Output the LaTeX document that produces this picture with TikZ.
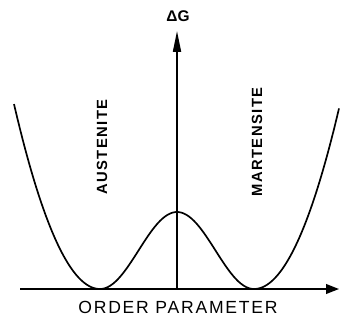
\documentclass[tikz,border=0pt]{standalone}
\usepackage{fontspec}
\setmainfont{Liberation Sans}
\usetikzlibrary{arrows.meta}

\begin{document}
\begin{tikzpicture}[
          x=0.5cm, y=0.5cm,
          axis/.style={line width=1.2pt},
          curve/.style={line width=1.2pt, smooth, samples=60},
          phase/.style={rotate=90, font=\fontsize{10.5}{12}\selectfont\bfseries\addfontfeatures{LetterSpace=10}},
          axislabel/.style={font=\fontsize{12.5}{14}\selectfont\addfontfeatures{LetterSpace=10}}
        ]
        \useasboundingbox (0,0) rectangle (17,16.05);
        % axes
        \coordinate (o) at (8.85,1.6);
        \coordinate (xstart) at (1.0,1.6);
        \coordinate (xend) at (16.95,1.6);
        \coordinate (ytop) at (8.85,14.5);
        \draw[axis, -{Triangle[length=3.2mm, width=2.4mm]}] (xstart) -- (xend);
        \draw[axis, -{Triangle[length=5.2mm, width=2.0mm]}] (o) -- (ytop);
        % labels
        \node[font=\fontsize{11}{12}\selectfont\bfseries] (dg) at (8.9,15.25) {ΔG};
        \node[axislabel] (op) at (8.9,0.7) {ORDER PARAMETER};
        \node[phase] (aus) at (5.1,8.7) {AUSTENITE};
        \node[phase] (mar) at (12.85,8.95) {MARTENSITE};
        % double well
        \begin{scope}[shift={(o)}]
          \draw[curve]
            plot[domain=-8.15:-3.85] ({\x},{0.5*(\x+3.85)^2})
            -- plot[domain=-3.85:3.85] ({\x},{1.925*(1+cos(180*\x/3.85))})
            -- plot[domain=3.85:8.1] ({\x},{0.5*(\x-3.85)^2});
        \end{scope}
      \end{tikzpicture}
\end{document}
